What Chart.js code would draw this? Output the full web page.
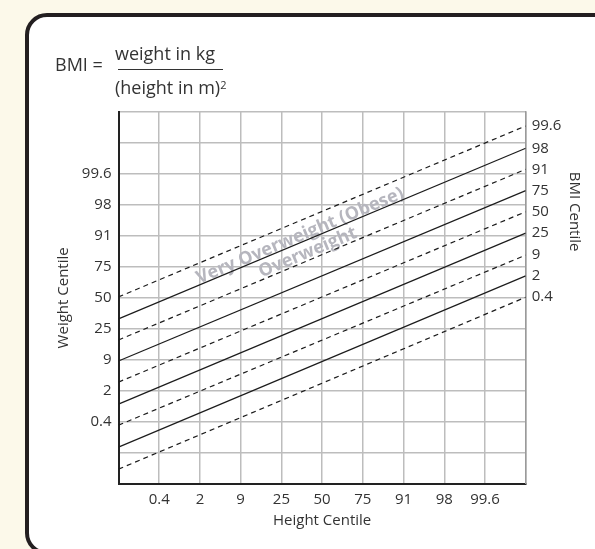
<!DOCTYPE html>
<html>
<head>
<meta charset="utf-8">
<script src="https://cdn.jsdelivr.net/npm/chart.js@4.4.0/dist/chart.umd.min.js"></script>
<style>
html,body{margin:0;padding:0;background:#fcf9ea;width:595px;height:549px;overflow:hidden;font-family:"Open Sans",sans-serif;color:#333;}
#frame{position:absolute;left:25px;top:13px;width:592px;height:542px;box-sizing:border-box;border:4px solid #231f20;border-radius:22px;background:#fff;}
#wrap{position:absolute;left:0;top:0;width:595px;height:549px;}
.f{position:absolute;font-size:18px;line-height:18px;white-space:nowrap;color:#333;}
.f sup{font-size:11px;position:relative;top:-2px;vertical-align:top;}
#bar{position:absolute;left:118px;top:68.5px;width:105px;height:1.5px;background:#333;}
</style>
</head>
<body>
<div id="frame"></div>
<div id="wrap"><canvas id="c" width="595" height="549"></canvas></div>
<div class="f" style="left:55px;top:54.5px;">BMI =</div>
<div class="f" style="left:115px;top:44px;">weight in kg</div>
<div id="bar"></div>
<div class="f" style="left:115px;top:78px;">(height in m)<sup>2</sup></div>
<script>
// Tick labels along the grid (one grid step = 2/3 SD)
const heightTicks = ['', '0.4', '2', '9', '25', '50', '75', '91', '98', '99.6', ''];
const weightTicks = ['', '', '0.4', '2', '9', '25', '50', '75', '91', '98', '99.6', '', ''];
// BMI centile lines: value at lowest height centile edge and at highest edge (grid units)
const bmiCentiles = ['99.6', '98', '91', '75', '50', '25', '9', '2', '0.4'];
const bmiStart = [6.03, 5.32, 4.64, 3.96, 3.28, 2.57, 1.89, 1.18, 0.47];
const bmiEnd = [11.55, 10.83, 10.15, 9.46, 8.78, 8.09, 7.38, 6.71, 6.02];
const bmiDashed = [true, false, true, false, true, false, true, false, true];
// Zone annotations
const zoneLabels = ['Very Overweight (Obese)', 'Overweight'];
const zoneX = [4.46, 4.65];
const zoneY = [8.0, 7.46];

const FONT = 'Open Sans';
const TXT = '#333';
const GRID = '#bdbdbd';

const datasets = bmiCentiles.map((c, i) => ({
  label: c,
  data: [{x: 0, y: bmiStart[i]}, {x: heightTicks.length - 1, y: bmiEnd[i]}],
  borderColor: '#1c1c1c',
  borderWidth: 1.2,
  borderDash: bmiDashed[i] ? [5, 4] : [],
  pointRadius: 0,
  fill: false,
  xAxisID: 'x',
  yAxisID: 'y'
}));

const zonePlugin = {
  id: 'zones',
  beforeDatasetsDraw(chart) {
    const {ctx, scales: {x, y, yR}} = chart;
    const dx = x.getPixelForValue(heightTicks.length - 1) - x.getPixelForValue(0);
    const dy = y.getPixelForValue(bmiEnd[0]) - y.getPixelForValue(bmiStart[0]);
    const ang = Math.atan2(dy, dx);
    ctx.save();
    ctx.fillStyle = '#b6b6be';
    ctx.font = 'bold 18px "' + FONT + '"';
    ctx.textAlign = 'center';
    ctx.textBaseline = 'middle';
    zoneLabels.forEach((t, i) => {
      ctx.save();
      ctx.translate(x.getPixelForValue(zoneX[i]), y.getPixelForValue(zoneY[i]));
      ctx.rotate(ang);
      ctx.fillText(t, 0, 0);
      ctx.restore();
    });
    ctx.restore();
    // right axis title, centred on the BMI centile labels
    const cy = (yR.getPixelForValue(bmiEnd[0]) + yR.getPixelForValue(bmiEnd[bmiEnd.length - 1])) / 2;
    ctx.save();
    ctx.fillStyle = TXT;
    ctx.font = '15px "' + FONT + '"';
    ctx.textAlign = 'center';
    ctx.textBaseline = 'middle';
    ctx.translate(yR.right - 21, cy);
    ctx.rotate(Math.PI / 2);
    ctx.fillText('BMI Centile', 0, 0);
    ctx.restore();
  }
};

new Chart(document.getElementById('c'), {
  type: 'line',
  data: {datasets},
  plugins: [zonePlugin],
  options: {
    responsive: false,
    animation: false,
    layout: {padding: {top: 112, left: 0, right: 0, bottom: 0}},
    plugins: {legend: {display: false}, tooltip: {enabled: false}},
    scales: {
      x: {
        type: 'linear', position: 'bottom',
        min: 0, max: heightTicks.length - 1,
        afterBuildTicks: s => { s.ticks = heightTicks.map((_, i) => ({value: i})); },
        afterFit: s => { s.height = 65.3; },
        ticks: {callback: (v, i) => heightTicks[i], autoSkip: false, maxRotation: 0, padding: 7, color: TXT, font: {family: FONT, size: 15}},
        grid: {color: GRID, lineWidth: 1.5, drawTicks: false},
        border: {color: '#222', width: 2},
        title: {display: true, text: 'Height Centile', color: TXT, font: {family: FONT, size: 15}, padding: {top: 0, bottom: 19}}
      },
      y: {
        type: 'linear', position: 'left',
        min: 0, max: weightTicks.length - 1,
        afterBuildTicks: s => { s.ticks = weightTicks.map((_, i) => ({value: i})); },
        afterFit: s => { s.width = 118.5; },
        ticks: {callback: (v, i) => weightTicks[i], autoSkip: false, padding: 7, color: TXT, font: {family: FONT, size: 15}},
        grid: {color: GRID, lineWidth: 1.5, drawTicks: false},
        border: {color: '#222', width: 2},
        title: {display: true, text: 'Weight Centile', color: TXT, font: {family: FONT, size: 15}, padding: {top: 55, bottom: 0}}
      },
      yR: {
        type: 'linear', position: 'right',
        min: 0, max: weightTicks.length - 1,
        afterBuildTicks: s => { s.ticks = bmiEnd.map(v => ({value: v})); },
        afterFit: s => { s.width = 69.3; },
        ticks: {callback: (v, i) => bmiCentiles[i], autoSkip: false, padding: 6, color: TXT, font: {family: FONT, size: 15}},
        grid: {display: false, drawTicks: false},
        border: {color: '#9a9a9a', width: 1.5},
        title: {display: false}
      }
    }
  }
});
</script>
</body>
</html>
